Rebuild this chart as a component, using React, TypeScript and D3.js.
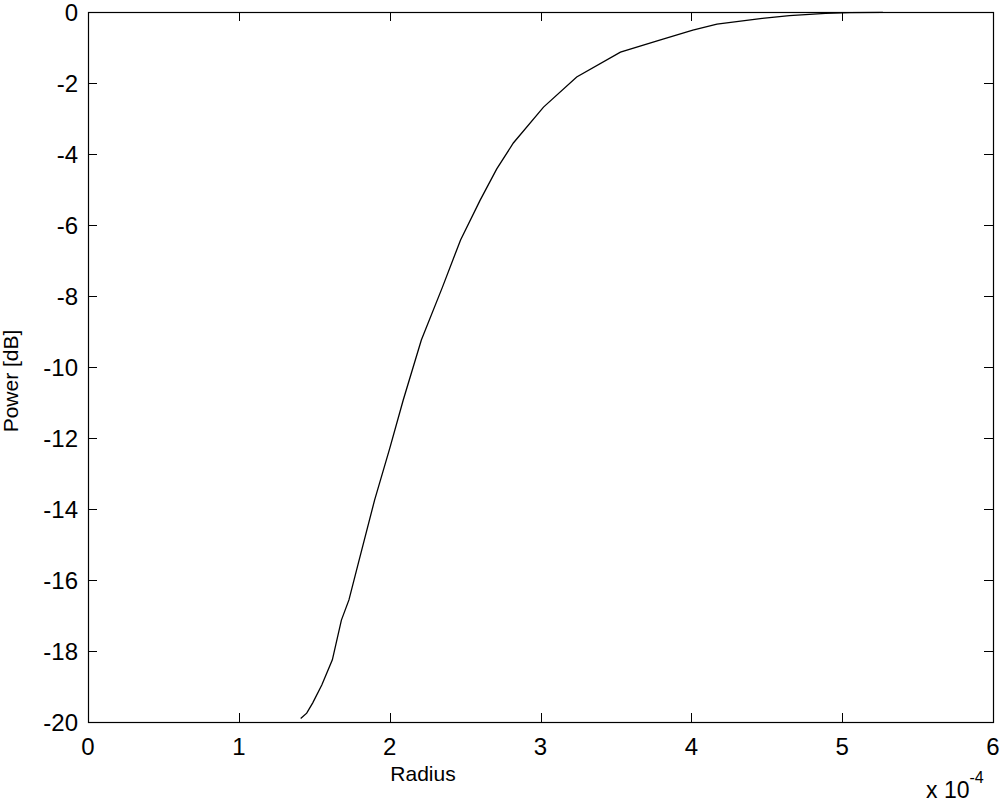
import * as d3 from "d3";
import { useEffect, useRef } from "react";

// radius in units of 1e-4, power in dB
const radius = [1.41, 1.45, 1.49, 1.55, 1.62, 1.68, 1.73, 1.8, 1.9, 2.0, 2.09, 2.21, 2.35, 2.47, 2.6, 2.71, 2.82, 3.02, 3.24, 3.53, 3.79, 4.01, 4.17, 4.47, 4.65, 4.89, 5.05, 5.27];
const power = [-19.9, -19.75, -19.46, -18.96, -18.25, -17.13, -16.56, -15.4, -13.75, -12.3, -10.93, -9.24, -7.75, -6.42, -5.3, -4.42, -3.69, -2.68, -1.83, -1.13, -0.79, -0.51, -0.34, -0.18, -0.1, -0.04, -0.02, -0.01];
const xTicks = [0, 1, 2, 3, 4, 5, 6];
const yTicks = [0, -2, -4, -6, -8, -10, -12, -14, -16, -18, -20];

const font = "'Liberation Sans', Arial, sans-serif";

const App = () => {
    const ref = useRef<SVGSVGElement>(null);
    const margin = { top: 12, right: 7, bottom: 83, left: 88 };
    const W = 1000;
    const H = 805;
    const width = W - margin.left - margin.right;
    const height = H - margin.top - margin.bottom;

    useEffect(() => {
        const svg = d3.select(ref.current);
        svg.selectAll("*").remove();

        const x = d3.scaleLinear().domain([0, 6]).range([0, width]);
        const y = d3.scaleLinear().domain([-20, 0]).range([height, 0]);

        const g = svg.append("g").attr("transform", `translate(${margin.left},${margin.top})`);

        // ticks inside, mirrored on all four sides
        const tl = 9;
        xTicks.forEach((t) => {
            const px = Math.round(x(t)) + 0.5;
            g.append("line").attr("x1", px).attr("x2", px).attr("y1", height).attr("y2", height - tl).attr("stroke", "#000");
            g.append("line").attr("x1", px).attr("x2", px).attr("y1", 0).attr("y2", tl).attr("stroke", "#000");
            g.append("text").attr("x", x(t)).attr("y", height + 33)
                .attr("text-anchor", "middle").attr("font-family", font).attr("font-size", 24).text(t);
        });
        yTicks.forEach((t) => {
            const py = Math.round(y(t)) + 0.5;
            g.append("line").attr("x1", 0).attr("x2", tl).attr("y1", py).attr("y2", py).attr("stroke", "#000");
            g.append("line").attr("x1", width).attr("x2", width - tl).attr("y1", py).attr("y2", py).attr("stroke", "#000");
            g.append("text").attr("x", -10).attr("y", y(t) + 9)
                .attr("text-anchor", "end").attr("font-family", font).attr("font-size", 24).text(t);
        });

        // box
        g.append("rect").attr("x", 0.5).attr("y", 0.5).attr("width", width).attr("height", height)
            .attr("fill", "none").attr("stroke", "#000").attr("stroke-width", 1.2);

        const line = d3.line<number>().x((_, i) => x(radius[i])).y((d) => y(d));
        g.append("path").datum(power).attr("d", line).attr("fill", "none")
            .attr("stroke", "#000").attr("stroke-width", 1.3);

        // labels
        svg.append("text").attr("x", 423).attr("y", 781).attr("text-anchor", "middle")
            .attr("font-family", font).attr("font-size", 21).text("Radius");
        svg.append("text").attr("transform", `translate(18,381) rotate(-90)`).attr("text-anchor", "middle")
            .attr("font-family", font).attr("font-size", 21).text("Power [dB]");
        const exp = svg.append("text").attr("x", 926).attr("y", 798).attr("font-family", font).attr("font-size", 23);
        exp.append("tspan").text("x 10");
        exp.append("tspan").attr("dy", -15).attr("font-size", 16).text("-4");
    }, []);

    return (
        <svg ref={ref} width={W} height={H}
            style={{ position: "absolute", left: 0, top: 0, background: "#fff" }}>
        </svg>
    );
};

export default App;
